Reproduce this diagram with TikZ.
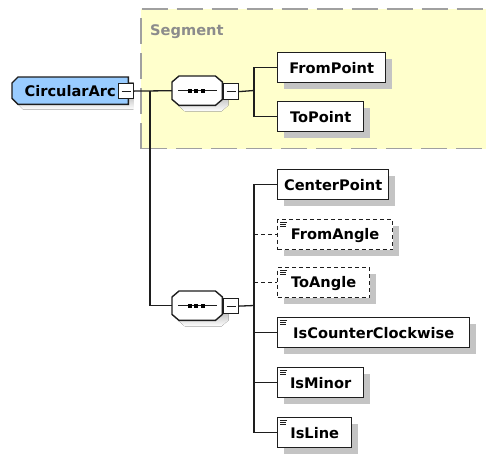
\documentclass[tikz,border=0pt]{standalone}
\usepackage{fontspec}
\setmainfont{DejaVu Sans}
\usetikzlibrary{calc,shadows}
\definecolor{segfill}{HTML}{FFFFCC}
\definecolor{segline}{HTML}{A0A0A0}
\definecolor{segtext}{HTML}{8C8C8C}
\definecolor{shade}{HTML}{C4C4C4}
\definecolor{arcblue}{HTML}{99CCFF}
\definecolor{ink}{HTML}{1E1E1E}
\pgfdeclarelayer{bg}
\pgfdeclarelayer{back}
\pgfsetlayers{back,bg,main}
\tikzset{
  lbl/.style={font=\bfseries\fontsize{14.6}{16}\selectfont, text height=10.6pt, text depth=0pt, text=black},
  elem/.style={lbl, draw=ink, line width=1.4pt, fill=white, anchor=north west,
    minimum height=30pt, inner sep=0pt,
    drop shadow={shadow xshift=6pt, shadow yshift=-6pt, fill=shade, opacity=1}},
  optelem/.style={elem, dash pattern=on 4pt off 3pt, line width=1.2pt},
  conn/.style={draw=ink, line width=1.3pt},
  optconn/.style={conn, dash pattern=on 4pt off 3pt},
  minusbox/.style={draw=ink, line width=1.2pt, fill=white, anchor=north west,
    minimum width=15pt, minimum height=15pt, inner sep=0pt},
  anchorbox/.style={anchor=north west, inner sep=0pt},
  shapeline/.style={draw=ink, line width=1.4pt},
  icon/.style={draw=ink, line width=0.8pt}
}
\newcommand{\minusmark}[1]{\draw[icon, line width=1pt] ($(#1.west)+(3.5,0)$) -- ($(#1.east)+(-3.5,0)$);}
\newcommand{\listicon}[1]{%
  \draw[icon] ($(#1.north west)+(3,3.5)$) -- ++(7,0);
  \draw[icon] ($(#1.north west)+(3,5.5)$) -- ++(6,0);
  \draw[icon] ($(#1.north west)+(3,7.5)$) -- ++(6,0);}
\begin{document}
\begin{tikzpicture}[x=1pt,y=-1pt]
\useasboundingbox (0,0) rectangle (486,455);
\begin{pgfonlayer}{back}
\fill[white] (0,0) rectangle (486,455);
\end{pgfonlayer}
% Segment group
\fill[segfill] (141,9) rectangle (490,148.5);
\draw[segline, line width=1.5pt, dash pattern=on 26pt off 9pt] (141,148.5) -- (141,9) -- (490,9);
\draw[segline, line width=1.5pt, dash pattern=on 26pt off 9pt] (141,148.5) -- (490,148.5);
\node[lbl, text=segtext, anchor=base west, inner sep=0pt] (seglbl) at (150,35.5) {Segment};

% CircularArc root
\node[lbl, anchorbox, minimum width=116pt, minimum height=27pt] (ca) at (12,77) {CircularArc\hspace{12pt}};
\begin{pgfonlayer}{bg}
  \fill[shade] ($(ca.north west)+(11,5)$) -- ($(ca.north east)+(5,5)$) -- ($(ca.south east)+(5,5)$) -- ($(ca.south west)+(11,5)$) -- ($(ca.south west)+(5,-1)$) -- ($(ca.north west)+(5,11)$) -- cycle;
  \filldraw[shapeline, fill=arcblue] ($(ca.north west)+(6,0)$) -- (ca.north east) -- (ca.south east) -- ($(ca.south west)+(6,0)$) -- ($(ca.south west)+(0,-6)$) -- ($(ca.north west)+(0,6)$) -- cycle;
\end{pgfonlayer}
\node[minusbox] (cam) at (118,83) {};
\minusmark{cam}

% sequence 1
\node[anchorbox, minimum width=50pt, minimum height=29pt] (seq1) at (172,76) {};
% sequence 2
\node[anchorbox, minimum width=50pt, minimum height=29pt] (seq2) at (172,291) {};
\foreach \s in {seq1,seq2}{
  \fill[shade] ($(\s.north west)+(7+6,6)$) -- ($(\s.north east)+(-7+6,6)$) -- ($(\s.north east)+(6,6+6)$) -- ($(\s.south east)+(6,-6+6)$) -- ($(\s.south east)+(-7+6,6)$) -- ($(\s.south west)+(7+6,6)$) -- ($(\s.south west)+(6,-6+6)$) -- ($(\s.north west)+(6,6+6)$) -- cycle;
  \filldraw[shapeline, fill=white] ($(\s.north west)+(7,0)$) -- ($(\s.north east)+(-7,0)$) -- ($(\s.north east)+(0,6)$) -- ($(\s.south east)+(0,-6)$) -- ($(\s.south east)+(-7,0)$) -- ($(\s.south west)+(7,0)$) -- ($(\s.south west)+(0,-6)$) -- ($(\s.north west)+(0,6)$) -- cycle;
  \draw[icon, line width=1pt] ($(\s.west)+(6,0)$) -- ($(\s.east)+(-5,0)$);
  \foreach \dx in {17.5,24,30.5}{
    \fill[black] ($(\s.west)+(\dx-2,-2)$) rectangle ($(\s.west)+(\dx+2,2)$);
  }
}
\node[minusbox, minimum height=16pt] (s1m) at (223,83) {};
\minusmark{s1m}
\node[minusbox] (s2m) at (223,298) {};
\minusmark{s2m}

% elements
\node[elem, minimum width=108pt] (fromPoint) at (277,52) {FromPoint};
\node[elem, minimum width=86pt] (toPoint) at (277,101) {ToPoint};
\node[elem, minimum width=111pt] (centerPoint) at (277,169) {CenterPoint};
\node[optelem, minimum width=115pt] (fromAngle) at (277,219) {FromAngle};
\node[optelem, minimum width=92pt] (toAngle) at (277,267) {ToAngle};
\node[elem, minimum width=192pt] (isCC) at (277,317) {IsCounterClockwise};
\node[elem, minimum width=86pt] (isMinor) at (277,367) {IsMinor};
\node[elem, minimum width=74pt] (isLine) at (277,417) {IsLine};
\foreach \n in {fromAngle,toAngle,isCC,isMinor,isLine}{\listicon{\n}}

% connectors
\coordinate (j1) at (150,90.5);
\coordinate (b1) at (254,90.5);
\coordinate (b2) at (254,305.5);
\draw[conn] (cam.east) -- (seq1.west);
\draw[conn] (j1) |- (seq2.west);
\draw[conn] (s1m.east) -- (b1);
\draw[conn] (fromPoint.west) -| (b1) |- (toPoint.west);
\draw[conn] (s2m.east) -- (b2);
\draw[conn] (centerPoint.west) -| (b2) |- (isLine.west);
\draw[optconn] (fromAngle.west -| b2) -- (fromAngle.west);
\draw[optconn] (toAngle.west -| b2) -- (toAngle.west);
\draw[conn] (isCC.west -| b2) -- (isCC.west);
\draw[conn] (isMinor.west -| b2) -- (isMinor.west);
\end{tikzpicture}
\end{document}
